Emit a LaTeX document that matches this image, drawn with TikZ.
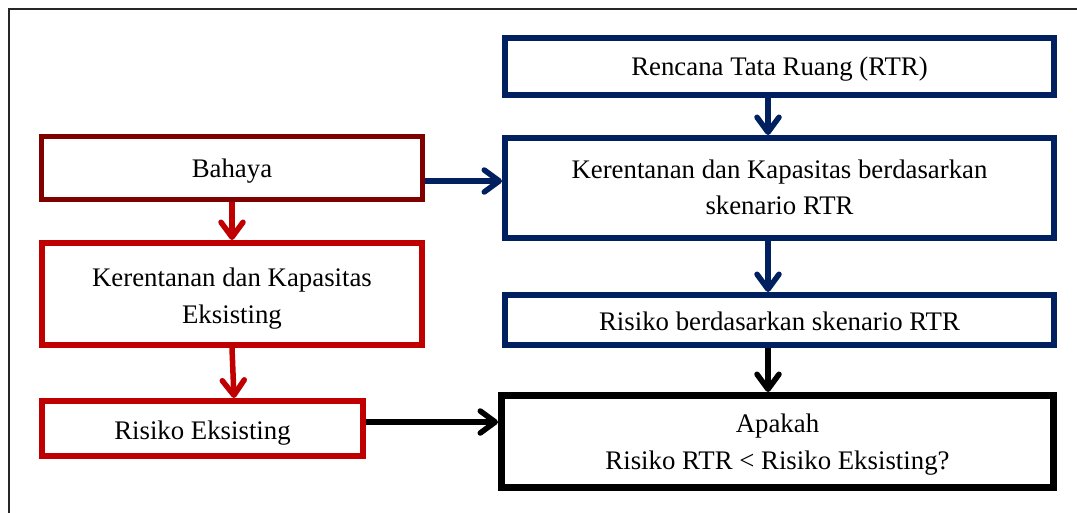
\documentclass[tikz,border=0pt]{standalone}
\usepackage{fontspec}
\setmainfont{Liberation Serif}
\usetikzlibrary{arrows.meta}
\definecolor{navy}{RGB}{0,32,96}
\definecolor{darkred}{RGB}{128,0,0}
\definecolor{mainred}{RGB}{192,0,0}
\newcommand\dnshift[2]{\raisebox{-#1}[\height][\depth]{#2}}
\newcommand\twolines[2]{\begin{tabular}{@{}c@{}}#1\\#2\end{tabular}}
\tikzset{
  box/.style={rectangle, align=center, inner sep=0pt,
    font=\fontsize{26.8}{36.5}\selectfont, text=black},
  arr/.style={line width=5.5pt, -{Straight Barb[length=15pt,width=22pt,round]}},
}
\begin{document}
\begin{tikzpicture}[x=1pt,y=-1pt]
\useasboundingbox (0,0) rectangle (1077,512);
\clip (0,0) rectangle (1077,512);
\fill[white] (0,0) rectangle (1077,512);
\draw[line width=2pt, black!85] (9,530) -- (9,9) -- (1100,9);

\node[box, draw=navy, line width=6pt, minimum width=549pt, minimum height=57pt] (rtr) at (779.5,66.5) {\dnshift{3pt}{Rencana Tata Ruang (RTR)}};
\node[box, draw=navy, line width=6pt, minimum width=549pt, minimum height=100pt] (krtr) at (779.5,188) {\dnshift{1pt}{\twolines{Kerentanan dan Kapasitas berdasarkan}{skenario RTR}}};
\node[box, draw=navy, line width=6pt, minimum width=549pt, minimum height=50pt] (rrtr) at (779.5,320) {\dnshift{1.5pt}{Risiko berdasarkan skenario RTR}};
\node[box, draw=black, line width=7pt, minimum width=552pt, minimum height=92pt] (apakah) at (777.5,441.5) {\dnshift{2pt}{\twolines{Apakah}{Risiko RTR < Risiko Eksisting?}}};

\node[box, draw=darkred, line width=5pt, minimum width=381pt, minimum height=63pt] (bahaya) at (232,168) {\dnshift{3pt}{Bahaya}};
\node[box, draw=mainred, line width=6pt, minimum width=380pt, minimum height=102pt] (ke) at (232,294) {\dnshift{3.5pt}{\twolines{Kerentanan dan Kapasitas}{Eksisting}}};
\node[box, draw=mainred, line width=6pt, minimum width=321pt, minimum height=55pt] (re) at (202.5,428.5) {\dnshift{5pt}{Risiko Eksisting}};

\draw[arr, navy] ([yshift=-13pt]bahaya.east) -- ([yshift=-13pt]bahaya.east -| krtr.west);
\draw[arr, mainred] (bahaya.south) -- (ke.north);
\draw[arr, mainred] (ke.south) -- ([xshift=2pt]ke.south |- re.north);
\draw[arr, navy] ([xshift=-11.5pt]rtr.south) -- ([xshift=-11.5pt]rtr.south |- krtr.north);
\draw[arr, navy] ([xshift=-11.5pt]krtr.south) -- ([xshift=-11.5pt]krtr.south |- rrtr.north);
\draw[arr, black] ([xshift=-11.5pt]rrtr.south) -- ([xshift=-11.5pt]rrtr.south |- apakah.north);
\draw[arr, black] ([yshift=6.5pt]re.east) -- ([yshift=6.5pt]re.east -| apakah.west);
\end{tikzpicture}
\end{document}
